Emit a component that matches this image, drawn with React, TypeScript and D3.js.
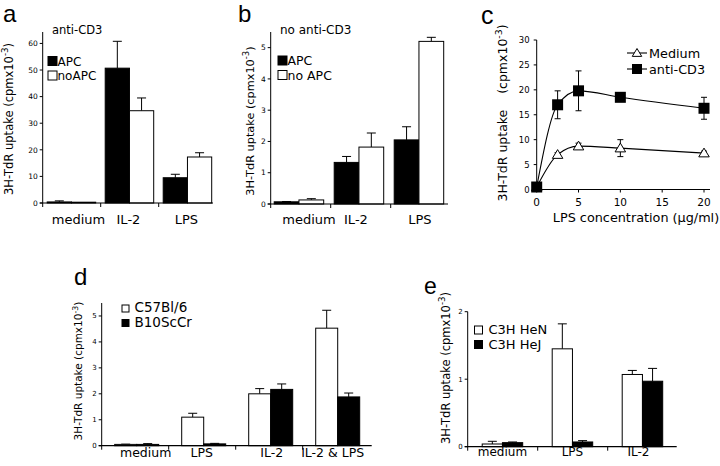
import React from "react";
import * as d3 from "d3";

// ---------- data ----------
const catsA = ["medium", "IL-2", "LPS"];
const seriesA = ["APC", "noAPC"];
const apcA = [0.4, 50.7, 9.5];
const apcErrA = [0.4, 10.1, 1.3];
const noApcA = [0.3, 34.7, 17.3];
const noApcErrA = [0, 4.8, 1.6];
const ticksA = [0, 10, 20, 30, 40, 50, 60];

const catsB = ["medium", "IL-2", "LPS"];
const seriesB = ["APC", "no APC"];
const apcB = [0.07, 1.33, 2.05];
const apcErrB = [0.01, 0.19, 0.42];
const noApcB = [0.13, 1.82, 5.2];
const noApcErrB = [0.04, 0.45, 0.13];
const ticksB = [0, 1, 2, 3, 4, 5];

const lpsConc = [0, 2.5, 5, 10, 20];
const seriesC = ["Medium", "anti-CD3"];
const mediumC = [0.5, 7.0, 8.7, 8.3, 7.3];
const mediumErrC = [0, 0.4, 0.6, 1.7, 0.4];
const antiCD3C = [0.5, 17.0, 19.8, 18.5, 16.3];
const antiCD3ErrC = [0, 2.8, 4.0, 0.8, 2.2];
const yTicksC = [0, 5, 10, 15, 20, 25, 30];
const xTicksC = [0, 5, 10, 15, 20];

const catsD = ["medium", "LPS", "IL-2", "IL-2 & LPS"];
const seriesD = ["C57Bl/6", "B10ScCr"];
const c57D = [0.05, 1.1, 2.0, 4.53];
const c57ErrD = [0.01, 0.15, 0.2, 0.69];
const b10D = [0.05, 0.07, 2.17, 1.88];
const b10ErrD = [0.03, 0.02, 0.21, 0.15];
const ticksD = [0, 1, 2, 3, 4, 5];

const catsE = ["medium", "LPS", "IL-2"];
const seriesE = ["C3H HeN", "C3H HeJ"];
const henE = [0.04, 1.45, 1.07];
const henErrE = [0.04, 0.37, 0.06];
const hejE = [0.06, 0.07, 0.97];
const hejErrE = [0.01, 0.02, 0.19];
const ticksE = [0, 1, 2];

const FONT = "DejaVu Sans, Verdana, sans-serif";
const LETTER_FONT = "Liberation Sans, Arial, sans-serif";

type BarPanelProps = {
  cats: string[];
  series: string[];
  values: number[][];
  errors: number[][];
  fills: string[];
  ticks: number[];
  yMax: number;
  x0: number;
  step: number;
  inner: [number, number];
  base: number;
  top: number;
  axisEnd: number;
  tickFont: number;
  catFont: number;
  catY: number;
  labelDx: number[];
  yLabelX: number;
  yLabelY: number;
  yLabelFont: number;
  letter: string;
  letterX: number;
  letterY: number;
  letterSize: number;
  title?: string;
  titleX?: number;
  titleY?: number;
  titleFont?: number;
  legendX: number;
  legendY: number;
  legendSq: number;
  legendGap: number;
  legendFont: number;
  legendTextDx: number;
};

function YLabel({ x, y, size, gap = "" }: { x: number; y: number; size: number; gap?: string }) {
  return (
    <text
      transform={`translate(${x},${y}) rotate(-90)`}
      textAnchor="middle"
      fontFamily={FONT}
      fontSize={size}
      fill="#000"
      style={{ whiteSpace: "pre" }}
    >
      <tspan>{`3H-TdR uptake ${gap}(cpmx10`}</tspan>
      <tspan dy={-size * 0.4} fontSize={size * 0.75}>-3</tspan>
      <tspan dy={size * 0.4}>)</tspan>
    </text>
  );
}

function BarPanel(p: BarPanelProps) {
  const x = d3
    .scaleBand<string>()
    .domain(p.cats)
    .range([p.x0, p.x0 + p.step * p.cats.length])
    .paddingInner(0)
    .paddingOuter(0);
  const xi = d3.scaleBand<string>().domain(p.series).range(p.inner).padding(0);
  const y = d3.scaleLinear().domain([0, p.yMax]).range([p.base, p.top]);
  const capW = 9;
  return (
    <g>
      {p.series.map((s, si) =>
        p.cats.map((c, ci) => {
          const v = p.values[si][ci];
          const e = p.errors[si][ci];
          const bx = (x(c) as number) + (xi(s) as number);
          const bw = xi.bandwidth();
          const cx = bx + bw / 2;
          return (
            <g key={s + c}>
              {e > 0 && (
                <g stroke="#000" strokeWidth={1}>
                  <line x1={cx} x2={cx} y1={y(v)} y2={y(v + e)} />
                  <line x1={cx - capW / 2} x2={cx + capW / 2} y1={y(v + e)} y2={y(v + e)} />
                </g>
              )}
              <rect
                x={bx}
                y={y(v)}
                width={bw}
                height={Math.max(0.5, y(0) - y(v))}
                fill={p.fills[si]}
                stroke="#000"
                strokeWidth={1}
              />
            </g>
          );
        })
      )}
      <line x1={p.x0} x2={p.x0} y1={p.base} y2={p.top} stroke="#000" strokeWidth={1} />
      <line x1={p.x0 - 3} x2={p.axisEnd} y1={p.base} y2={p.base} stroke="#000" strokeWidth={1.2} />
      {p.ticks.map((t) => (
        <g key={t}>
          <line x1={p.x0 - 3} x2={p.x0} y1={y(t)} y2={y(t)} stroke="#000" />
          <text
            x={p.x0 - 5}
            y={y(t) + p.tickFont * 0.36}
            textAnchor="end"
            fontFamily={FONT}
            fontSize={p.tickFont}
          >
            {t}
          </text>
        </g>
      ))}
      {p.cats.map((c, i) => (
        <g key={c}>
          {i > 0 && <line x1={x(c)} x2={x(c)} y1={p.base} y2={p.base + 4} stroke="#000" />}
          <text
            x={(x(c) as number) + (p.inner[0] + p.inner[1]) / 2 + p.labelDx[i]}
            y={p.catY}
            textAnchor="middle"
            fontFamily={FONT}
            fontSize={p.catFont}
          >
            {c}
          </text>
        </g>
      ))}
      <line x1={p.x0} x2={p.x0} y1={p.base} y2={p.base + 4} stroke="#000" />
      <YLabel x={p.yLabelX} y={p.yLabelY} size={p.yLabelFont} />
      <text x={p.letterX} y={p.letterY} fontFamily={LETTER_FONT} fontSize={p.letterSize}>
        {p.letter}
      </text>
      {p.title && (
        <text x={p.titleX} y={p.titleY} fontFamily={FONT} fontSize={p.titleFont}>
          {p.title}
        </text>
      )}
      {p.series.map((s, si) => (
        <g key={s}>
          <rect
            x={p.legendX}
            y={p.legendY + si * p.legendGap}
            width={p.legendSq}
            height={p.legendSq}
            fill={p.fills[si]}
            stroke="#000"
            strokeWidth={1}
          />
          <text
            x={p.legendX + p.legendSq + p.legendTextDx}
            y={p.legendY + si * p.legendGap + p.legendSq}
            fontFamily={FONT}
            fontSize={p.legendFont}
          >
            {s}
          </text>
        </g>
      ))}
    </g>
  );
}

function LinePanel() {
  const x = d3.scaleLinear().domain([0, 20]).range([536.7, 704]);
  const y = d3.scaleLinear().domain([0, 30]).range([189.5, 40]);
  const line = d3
    .line<number>()
    .x((_, i) => x(lpsConc[i]))
    .y((d) => y(d))
    .curve(d3.curveMonotoneX);
  const cap = 6;
  const tri = (cx: number, cy: number, r: number) =>
    `M${cx},${cy - r}L${cx + r * 1.05},${cy + r * 0.75}L${cx - r * 1.05},${cy + r * 0.75}Z`;
  const errBars = (vals: number[], errs: number[]) =>
    vals.map((v, i) =>
      errs[i] > 0 ? (
        <g key={i} stroke="#000" strokeWidth={1}>
          <line x1={x(lpsConc[i])} x2={x(lpsConc[i])} y1={y(v - errs[i])} y2={y(v + errs[i])} />
          <line x1={x(lpsConc[i]) - cap / 2} x2={x(lpsConc[i]) + cap / 2} y1={y(v + errs[i])} y2={y(v + errs[i])} />
          <line x1={x(lpsConc[i]) - cap / 2} x2={x(lpsConc[i]) + cap / 2} y1={y(v - errs[i])} y2={y(v - errs[i])} />
        </g>
      ) : null
    );
  return (
    <g>
      <text x={481} y={24} fontFamily={LETTER_FONT} fontSize={25}>c</text>
      <line x1={x(0)} x2={x(0)} y1={y(0)} y2={y(30)} stroke="#000" />
      <line x1={x(0)} x2={710} y1={y(0)} y2={y(0)} stroke="#000" strokeWidth={1.2} />
      {yTicksC.map((t) => (
        <g key={t}>
          <line x1={x(0) - 3} x2={x(0)} y1={y(t)} y2={y(t)} stroke="#000" />
          <text x={x(0) - 7} y={y(t) + 3} textAnchor="end" fontFamily={FONT} fontSize={8.5}>
            {t}
          </text>
        </g>
      ))}
      {xTicksC.map((t) => (
        <g key={t}>
          <line x1={x(t)} x2={x(t)} y1={y(0)} y2={y(0) + 3} stroke="#000" />
          <text x={x(t)} y={206} textAnchor="middle" fontFamily={FONT} fontSize={10.5}>
            {t}
          </text>
        </g>
      ))}
      <text x={636} y={221.5} textAnchor="middle" fontFamily={FONT} fontSize={12.8}>
        LPS concentration (μg/ml)
      </text>
      <YLabel x={507} y={113} size={12.5} gap="   " />
      {errBars(mediumC, mediumErrC)}
      {errBars(antiCD3C, antiCD3ErrC)}
      <path d={line(mediumC) || ""} fill="none" stroke="#000" strokeWidth={1.1} />
      <path d={line(antiCD3C) || ""} fill="none" stroke="#000" strokeWidth={1.1} />
      {mediumC.map((v, i) => (
        <path key={"m" + i} d={tri(x(lpsConc[i]), y(v), 5)} fill="#fff" stroke="#000" strokeWidth={1} />
      ))}
      {antiCD3C.map((v, i) => (
        <rect key={"a" + i} x={x(lpsConc[i]) - 5.5} y={y(v) - 5.5} width={11} height={11} fill="#000" />
      ))}
      {seriesC.map((s, i) => {
        const ly = 53 + i * 16;
        return (
          <g key={s}>
            <line x1={627} x2={647} y1={ly} y2={ly} stroke="#000" strokeWidth={1.1} />
            {i === 0 ? (
              <path d={tri(637, ly, 4.5)} fill="#fff" stroke="#000" />
            ) : (
              <rect x={632} y={ly - 5} width={10} height={10} fill="#000" />
            )}
            <text x={649} y={ly + 4.5} fontFamily={FONT} fontSize={12.8}>
              {s}
            </text>
          </g>
        );
      })}
    </g>
  );
}

export default function App() {
  return (
    <svg width={720} height={466} style={{ display: "block", position: "absolute", left: 0, top: 0, background: "#fff" }}>
      <rect width={720} height={466} fill="#fff" />
      <BarPanel
        cats={catsA}
        series={seriesA}
        values={[apcA, noApcA]}
        errors={[apcErrA, noApcErrA]}
        fills={["#000", "#fff"]}
        ticks={ticksA}
        yMax={64.3}
        x0={42.7}
        step={58}
        inner={[4.5, 53]}
        base={203}
        top={32}
        axisEnd={213}
        tickFont={7.5}
        catFont={13}
        catY={224}
        labelDx={[7, -1, -1]}
        yLabelX={12.5}
        yLabelY={119}
        yLabelFont={11.5}
        letter="a"
        letterX={3}
        letterY={22}
        letterSize={24}
        title="anti-CD3"
        titleX={52}
        titleY={34}
        titleFont={11.5}
        legendX={48}
        legendY={56.5}
        legendSq={9}
        legendGap={14.5}
        legendFont={12}
        legendTextDx={0.5}
      />
      <BarPanel
        cats={catsB}
        series={seriesB}
        values={[apcB, noApcB]}
        errors={[apcErrB, noApcErrB]}
        fills={["#000", "#fff"]}
        ticks={ticksB}
        yMax={5.5}
        x0={270.7}
        step={60}
        inner={[3.5, 53]}
        base={204}
        top={32}
        axisEnd={448}
        tickFont={7.5}
        catFont={13}
        catY={224}
        labelDx={[10, -3, 1]}
        yLabelX={254}
        yLabelY={121}
        yLabelFont={11.3}
        letter="b"
        letterX={238}
        letterY={22}
        letterSize={24}
        title="no anti-CD3"
        titleX={280}
        titleY={34}
        titleFont={12}
        legendX={278}
        legendY={56}
        legendSq={9}
        legendGap={14.5}
        legendFont={12.5}
        legendTextDx={0.5}
      />
      <LinePanel />
      <BarPanel
        cats={catsD}
        series={seriesD}
        values={[c57D, b10D]}
        errors={[c57ErrD, b10ErrD]}
        fills={["#fff", "#000"]}
        ticks={ticksD}
        yMax={5.5}
        x0={101.7}
        step={67}
        inner={[13, 57]}
        base={445.7}
        top={303}
        axisEnd={371.7}
        tickFont={7}
        catFont={12.5}
        catY={457}
        labelDx={[9, -2, 1, -5]}
        yLabelX={82}
        yLabelY={371}
        yLabelFont={10.5}
        letter="d"
        letterX={74}
        letterY={285}
        letterSize={24}
        legendX={122}
        legendY={305}
        legendSq={7}
        legendGap={14.5}
        legendFont={13.5}
        legendTextDx={5.5}
      />
      <BarPanel
        cats={catsE}
        series={seriesE}
        values={[henE, hejE]}
        errors={[henErrE, hejErrE]}
        fills={["#fff", "#000"]}
        ticks={ticksE}
        yMax={2}
        x0={467.7}
        step={70}
        inner={[14.5, 55]}
        base={446.7}
        top={311.7}
        axisEnd={676.7}
        tickFont={7}
        catFont={12}
        catY={456}
        labelDx={[0, 0, -4]}
        yLabelX={450}
        yLabelY={368}
        yLabelFont={11.5}
        letter="e"
        letterX={424}
        letterY={294}
        letterSize={23}
        legendX={474.5}
        legendY={326}
        legendSq={8}
        legendGap={14.5}
        legendFont={13}
        legendTextDx={6}
      />
    </svg>
  );
}
